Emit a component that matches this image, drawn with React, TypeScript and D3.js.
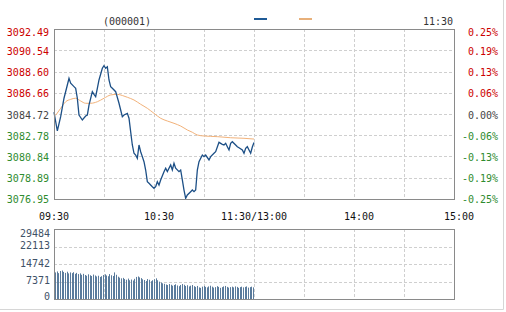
import React from "react";
import * as d3 from "d3";

// ---- data ----
const priceTicks = [3076.95, 3078.89, 3080.84, 3082.78, 3084.72, 3086.66, 3088.6, 3090.54, 3092.49];
const pctTicks = ["-0.25%", "-0.19%", "-0.13%", "-0.06%", "0.00%", "0.06%", "0.13%", "0.19%", "0.25%"];
const volTicks = [0, 7371, 14742, 22113, 29484];
const timeLabels = ["09:30", "10:30", "11:30/13:00", "14:00", "15:00"];
const timeMinutes = [0, 60, 120, 180, 240];

const priceMin = [0, 2, 4, 6, 8, 9, 10, 12, 13, 14, 15, 17, 19, 20, 21, 23, 24, 25, 26, 27, 29, 30, 31, 32, 33, 34, 35, 37, 39, 41, 42, 44, 45, 46, 47, 48, 49, 50, 51, 52, 53, 54, 55, 56, 57, 59, 60, 61, 62, 63, 64, 66, 67, 68, 70, 71, 72, 73, 75, 76, 77, 78, 79, 80, 82, 83, 84, 85, 86, 87, 89, 90, 91, 93, 94, 96, 97, 99, 101, 102, 103, 104, 105, 106, 107, 109, 110, 111, 113, 114, 115, 116, 117, 118, 119, 120];
const priceVal = [3084.88, 3083.17, 3084.47, 3086.16, 3087.37, 3087.98, 3087.53, 3087.22, 3087.07, 3086.16, 3084.63, 3084.17, 3084.54, 3084.63, 3085.54, 3086.76, 3086.52, 3086.3, 3087.07, 3087.83, 3088.9, 3089.14, 3088.9, 3089.04, 3087.83, 3087.22, 3087.07, 3086.76, 3085.7, 3084.47, 3084.63, 3084.78, 3084.33, 3083.1, 3081.89, 3081.13, 3080.97, 3080.67, 3081.89, 3081.27, 3080.82, 3080.36, 3079.6, 3078.53, 3078.39, 3078.07, 3077.93, 3078.07, 3078.53, 3078.23, 3078.69, 3079.45, 3079.76, 3079.45, 3080.06, 3079.6, 3080.21, 3079.76, 3079.45, 3079.6, 3078.69, 3077.77, 3077.01, 3077.32, 3077.62, 3077.77, 3077.62, 3077.77, 3079.6, 3080.36, 3080.97, 3080.82, 3080.97, 3080.52, 3080.82, 3081.13, 3081.27, 3082.13, 3081.95, 3081.89, 3082.04, 3081.73, 3081.43, 3082.04, 3082.19, 3081.89, 3081.73, 3081.64, 3081.43, 3081.13, 3081.58, 3081.73, 3081.43, 3081.13, 3081.7, 3082.11];

const avgMin = [1, 4, 7, 10, 13, 16, 19, 22, 26, 30, 34, 38, 41, 44, 48, 52, 56, 60, 64, 68, 72, 76, 80, 83, 86, 90, 98, 106, 114, 120];
const avgVal = [3084.6, 3085.24, 3085.84, 3086.06, 3086.16, 3085.91, 3085.7, 3085.7, 3085.84, 3086.16, 3086.46, 3086.52, 3086.41, 3086.25, 3086.0, 3085.61, 3085.24, 3084.78, 3084.33, 3084.08, 3083.87, 3083.62, 3083.26, 3083.05, 3082.8, 3082.71, 3082.65, 3082.55, 3082.5, 3082.43];

const volumes = [
  11200, 11600, 10900, 11800, 12000, 11400, 11000, 11500, 10800, 11200, 10900,
  11300, 10600, 11000, 10500, 10800, 10200, 10600, 10100, 9800, 10400,
  10000, 9700, 10300, 9900, 9500, 9800, 9300, 9600, 10100, 10400,
  9900, 9600, 10500, 10000, 9700, 11200, 10200, 9400, 9000, 8700,
  8900, 8400, 8100, 8600, 7900, 8200, 7800, 8500, 9300, 9500,
  9100, 8800, 8300, 8000, 7600, 8400, 8100, 7500, 7900, 8300,
  8700, 7900, 7300, 6900, 6600, 6400, 6100, 5900, 6300, 6000,
  5600, 5900, 6200, 5700, 5400, 5900, 6300, 6000, 5500, 5800,
  5300, 5600, 5900, 5400, 5100, 5500, 4900, 4700, 5200, 5500,
  5100, 4900, 5300, 5600, 5200, 4800, 5000, 5400, 5100, 4700,
  5000, 5300, 5500, 5100, 4800, 5000, 5200, 4900, 5300, 5100,
  4700, 5000, 5200, 4900, 5100, 5300, 4800, 5000, 5200, 4900,
];

// ---- layout ----
const W = 506, H = 312;
const L = 54, R = 454, T = 29, B = 199, VT = 229, VB = 299;
const FONT = "'DejaVu Sans Mono', monospace";
const timeLabelOffset = [0, 5, 0, 5, 5];

const x = d3.scaleLinear().domain([0, 240]).range([L, R]);
const xb = d3.scaleLinear().domain([0, volumes.length - 1]).range([L + 1, 253]);
const y = d3.scaleLinear().domain([priceTicks[0], priceTicks[priceTicks.length - 1]]).range([B, T]);
const yv = d3.scaleLinear().domain([0, 29484]).range([VB, VT]);

const crisp = (v: number) => Math.round(v) + 0.5;

function labelColor(i: number) {
  if (i > 4) return "#cc0000";
  if (i < 4) return "#2e8b2e";
  return "#444";
}

export default function App() {
  const pricePts: [number, number][] = priceMin.map((m, i) => [x(m), y(priceVal[i])]);
  const avgPts: [number, number][] = avgMin.map((m, i) => [x(m), y(avgVal[i])]);
  const line = d3.line().curve(d3.curveLinear);
  const avgLine = d3.line().curve(d3.curveMonotoneX);
  const vgrid = d3.range(30, 240, 30);

  return (
    <svg width={W} height={H} style={{ position: "absolute", left: 0, top: 0, background: "#fff" }} fontFamily={FONT} fontSize={10}>
      <rect x={0} y={0} width={W} height={H} fill="#fff" />
      {/* outer border */}
      <line x1={503.5} x2={503.5} y1={0} y2={309.5} stroke="#d6d6d6" />
      <line x1={0} x2={503.5} y1={309.5} y2={309.5} stroke="#d6d6d6" />

      {/* header */}
      <text x={127} y={21} textAnchor="middle" dominantBaseline="central" fill="#333">(000001)</text>
      <line x1={254} x2={267} y1={19} y2={19} stroke="#1f5a96" strokeWidth={2} />
      <line x1={299} x2={312} y1={19} y2={19} stroke="#e8b07a" strokeWidth={2} />
      <text x={453} y={21} textAnchor="end" dominantBaseline="central" fill="#333">11:30</text>

      {/* main grid */}
      {vgrid.map((m) => (
        <line key={"vg" + m} x1={crisp(x(m))} x2={crisp(x(m))} y1={T} y2={B} stroke="#cfcfcf" strokeDasharray="3,2" />
      ))}
      {priceTicks.slice(1, -1).map((p) => (
        <line key={"hg" + p} x1={L} x2={R} y1={crisp(y(p))} y2={crisp(y(p))} stroke="#cfcfcf" strokeDasharray="3,2" />
      ))}

      {/* price labels */}
      {priceTicks.map((p, i) => (
        <text key={"pl" + p} x={49} y={Math.max(Math.min(y(p) + 1, 199), 32)} textAnchor="end" dominantBaseline="central" fill={labelColor(i)}>
          {p.toFixed(2)}
        </text>
      ))}
      {pctTicks.map((t, i) => (
        <text key={"pc" + t} x={498} y={Math.max(Math.min(y(priceTicks[i]) + 1, 199), 32)} textAnchor="end" dominantBaseline="central" fill={labelColor(i)}>
          {t}
        </text>
      ))}

      {/* lines */}
      <path d={avgLine(avgPts) || ""} fill="none" stroke="#f2b27a" strokeWidth={1} />
      <path d={line(pricePts) || ""} fill="none" stroke="#1c4f86" strokeWidth={1.3} />

      {/* main frame */}
      <rect x={L + 0.5} y={T + 0.5} width={R - L} height={B - T} fill="none" stroke="#8a8a8a" />

      {/* time labels */}
      {timeLabels.map((t, i) => (
        <text key={"tl" + t} x={x(timeMinutes[i]) + timeLabelOffset[i]} y={216} textAnchor="middle" dominantBaseline="central" fill="#111">
          {t}
        </text>
      ))}

      {/* volume grid */}
      {vgrid.map((m) => (
        <line key={"vvg" + m} x1={crisp(x(m))} x2={crisp(x(m))} y1={VT} y2={VB} stroke="#cfcfcf" strokeDasharray="3,2" />
      ))}
      {volTicks.slice(1, -1).map((v) => (
        <line key={"vhg" + v} x1={L} x2={R} y1={crisp(yv(v))} y2={crisp(yv(v))} stroke="#cfcfcf" strokeDasharray="3,2" />
      ))}
      {volTicks.map((v) => (
        <text key={"vl" + v} x={50} y={Math.max(Math.min(yv(v) - 1, 296), 233)} textAnchor="end" dominantBaseline="central" fill="#3f5268">
          {v}
        </text>
      ))}

      {/* volume bars */}
      {volumes.map((v, i) => (
        <rect key={"b" + i} x={Math.round(xb(i))} y={yv(v)} width={1} height={VB - yv(v)} fill="#5a7b9c" />
      ))}

      {/* volume frame */}
      <rect x={L + 0.5} y={VT + 0.5} width={R - L} height={VB - VT} fill="none" stroke="#8a8a8a" />
    </svg>
  );
}
